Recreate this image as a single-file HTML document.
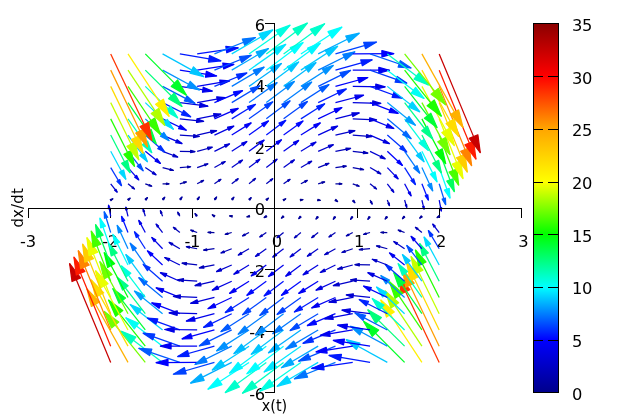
<!DOCTYPE html>
<html><head><meta charset="utf-8"><title>Van der Pol phase plot</title>
<style>html,body{margin:0;padding:0;background:#fff}svg{display:block}</style></head>
<body>
<svg width="640" height="420" viewBox="0 0 640 420">
<rect width="640" height="420" fill="#fff"/>
<g font-family="'DejaVu Sans','Liberation Sans',sans-serif" font-size="16.3" letter-spacing="-0.3" fill="#000">
<text x="27.90" y="246.60" text-anchor="middle">-3</text>
<text x="110.07" y="246.60" text-anchor="middle">-2</text>
<text x="192.23" y="246.60" text-anchor="middle">-1</text>
<text x="276.80" y="246.60" text-anchor="middle">0</text>
<text x="358.97" y="246.60" text-anchor="middle">1</text>
<text x="441.13" y="246.60" text-anchor="middle">2</text>
<text x="523.30" y="246.60" text-anchor="middle">3</text>
<text x="264.9" y="400.35" text-anchor="end">-6</text>
<text x="264.9" y="337.75" text-anchor="end">-4</text>
<text x="264.9" y="277.45" text-anchor="end">-2</text>
<text x="264.9" y="214.55" text-anchor="end">0</text>
<text x="264.9" y="154.30" text-anchor="end">2</text>
<text x="264.9" y="91.95" text-anchor="end">4</text>
<text x="264.9" y="30.55" text-anchor="end">6</text>
<text x="572" y="399.90">0</text>
<text x="572" y="347.19">5</text>
<text x="572" y="294.47">10</text>
<text x="572" y="241.76">15</text>
<text x="572" y="189.04">20</text>
<text x="572" y="136.33">25</text>
<text x="572" y="83.61">30</text>
<text x="572" y="30.90">35</text>
</g>
<g font-family="'DejaVu Sans Condensed','DejaVu Sans','Liberation Sans',sans-serif" font-size="16" fill="#000">
<text x="274.5" y="410.8" text-anchor="middle">x(t)</text>
<text transform="translate(23.2,207.8) rotate(-90)" text-anchor="middle" font-size="16.6" letter-spacing="0.15">dx/dt</text>
</g>
<path d="M28.5 208V218M110.5 208V218M192.5 208V218M274.5 208V218M357.5 208V218M439.5 208V218M521.5 208V218M265 392.5H275M265 331.5H275M265 269.5H275M265 208.5H275M265 146.5H275M265 85.5H275M265 23.5H275" stroke="#000" stroke-width="1" fill="none" shape-rendering="crispEdges"/>
<g stroke-width="1.25" stroke-linejoin="round"><g stroke="#c80000" fill="#c80000"><path d="M110.71 362.40L69.65 263.68"/><path d="M72.03 281.52L69.65 263.68L80.63 277.94Z"/></g><g stroke="#ffb100" fill="#ffb100"><path d="M128.00 362.40L86.94 288.94"/><path d="M91.35 306.39L86.94 288.94L99.49 301.84Z"/></g><g stroke="#73ff00" fill="#73ff00"><path d="M145.29 362.40L104.23 311.47"/><path d="M111.51 327.93L104.23 311.47L118.77 322.08Z"/></g><g stroke="#00ffbf" fill="#00ffbf"><path d="M162.58 362.40L121.52 331.26"/><path d="M131.00 343.47L121.52 331.26L135.83 337.10Z"/></g><g stroke="#005aff" fill="#005aff"><path d="M179.86 362.40L138.80 348.32"/><path d="M149.61 355.59L138.80 348.32L151.80 349.21Z"/></g><g stroke="#0000ff" fill="#0000ff"><path d="M197.15 362.40L156.09 362.64"/><path d="M168.01 365.76L156.09 362.64L167.97 359.38Z"/></g><g stroke="#0042ff" fill="#0042ff"><path d="M214.44 362.40L173.38 374.23"/><path d="M186.20 373.99L173.38 374.23L184.36 367.61Z"/></g><g stroke="#00acff" fill="#00acff"><path d="M231.73 362.40L190.67 383.08"/><path d="M204.17 380.28L190.67 383.08L200.96 373.90Z"/></g><g stroke="#00fffe" fill="#00fffe"><path d="M249.02 362.40L207.96 389.20"/><path d="M221.94 384.62L207.96 389.20L217.77 378.25Z"/></g><g stroke="#00ffcd" fill="#00ffcd"><path d="M266.31 362.40L225.25 392.58"/><path d="M239.49 387.03L225.25 392.58L234.80 380.65Z"/></g><g stroke="#00ffc3" fill="#00ffc3"><path d="M283.59 362.40L242.53 393.23"/><path d="M256.83 387.49L242.53 393.23L252.04 381.11Z"/></g><g stroke="#00ffe2" fill="#00ffe2"><path d="M300.88 362.40L259.82 391.15"/><path d="M273.95 386.01L259.82 391.15L269.49 379.63Z"/></g><g stroke="#00d8ff" fill="#00d8ff"><path d="M318.17 362.40L277.11 386.33"/><path d="M290.87 382.58L277.11 386.33L287.15 376.21Z"/></g><g stroke="#0075ff" fill="#0075ff"><path d="M335.46 362.40L294.40 378.77"/><path d="M307.57 377.22L294.40 378.77L305.03 370.84Z"/></g><g stroke="#0013ff" fill="#0013ff"><path d="M352.75 362.40L311.69 368.48"/><path d="M324.06 369.91L311.69 368.48L323.11 363.53Z"/></g><g stroke="#0019ff" fill="#0019ff"><path d="M370.04 362.40L328.98 355.46"/><path d="M340.34 360.66L328.98 355.46L341.41 354.28Z"/></g><g stroke="#00c7ff" fill="#00c7ff"><path d="M387.32 362.40L346.26 339.70"/><path d="M356.40 349.47L346.26 339.70L359.93 343.09Z"/></g><g stroke="#00ff26" fill="#00ff26"><path d="M404.61 362.40L363.55 321.21"/><path d="M372.25 336.33L363.55 321.21L378.65 329.96Z"/></g><g stroke="#fff000" fill="#fff000"><path d="M421.90 362.40L380.84 299.98"/><path d="M386.50 317.07L380.84 299.98L394.29 311.95Z"/></g><g stroke="#ff3300" fill="#ff3300"><path d="M439.19 362.40L398.13 276.02"/><path d="M401.39 293.72L398.13 276.02L409.80 289.72Z"/></g><g stroke="#ff1b00" fill="#ff1b00"><path d="M110.71 346.16L73.97 257.19"/><path d="M76.30 275.03L73.97 257.19L84.91 271.48Z"/></g><g stroke="#ffdc00" fill="#ffdc00"><path d="M128.00 346.16L91.26 279.86"/><path d="M95.61 297.32L91.26 279.86L103.76 292.81Z"/></g><g stroke="#1eff00" fill="#1eff00"><path d="M145.29 346.16L108.55 300.08"/><path d="M115.62 316.29L108.55 300.08L122.77 310.58Z"/></g><g stroke="#00fff4" fill="#00fff4"><path d="M162.58 346.16L125.84 317.86"/><path d="M134.29 328.91L125.84 317.86L138.68 323.21Z"/></g><g stroke="#003aff" fill="#003aff"><path d="M179.86 346.16L143.13 333.19"/><path d="M152.76 339.80L143.13 333.19L154.78 334.09Z"/></g><g stroke="#0000f3" fill="#0000f3"><path d="M197.15 346.16L160.41 346.07"/><path d="M171.05 348.95L160.41 346.07L171.07 343.24Z"/></g><g stroke="#001eff" fill="#001eff"><path d="M214.44 346.16L177.70 356.51"/><path d="M189.15 356.36L177.70 356.51L187.55 350.66Z"/></g><g stroke="#007cff" fill="#007cff"><path d="M231.73 346.16L194.99 364.50"/><path d="M207.06 362.04L194.99 364.50L204.21 356.33Z"/></g><g stroke="#00c9ff" fill="#00c9ff"><path d="M249.02 346.16L212.28 370.04"/><path d="M224.78 365.97L212.28 370.04L221.07 360.27Z"/></g><g stroke="#00f6ff" fill="#00f6ff"><path d="M266.31 346.16L229.57 373.14"/><path d="M242.31 368.17L229.57 373.14L238.12 362.47Z"/></g><g stroke="#00ffff" fill="#00ffff"><path d="M283.59 346.16L246.86 373.78"/><path d="M259.65 368.63L246.86 373.78L255.36 362.93Z"/></g><g stroke="#00e5ff" fill="#00e5ff"><path d="M300.88 346.16L264.14 371.99"/><path d="M276.80 367.36L264.14 371.99L272.79 361.65Z"/></g><g stroke="#00a8ff" fill="#00a8ff"><path d="M318.17 346.16L281.43 367.74"/><path d="M293.75 364.34L281.43 367.74L290.40 358.64Z"/></g><g stroke="#0051ff" fill="#0051ff"><path d="M335.46 346.16L298.72 361.05"/><path d="M310.52 359.59L298.72 361.05L308.21 353.89Z"/></g><g stroke="#0000fb" fill="#0000fb"><path d="M352.75 346.16L316.01 351.91"/><path d="M327.10 353.10L316.01 351.91L326.21 347.40Z"/></g><g stroke="#0000fc" fill="#0000fc"><path d="M370.04 346.16L333.30 340.33"/><path d="M343.49 344.87L333.30 340.33L344.40 339.17Z"/></g><g stroke="#0091ff" fill="#0091ff"><path d="M387.32 346.16L350.59 326.30"/><path d="M359.69 334.91L350.59 326.30L362.78 329.20Z"/></g><g stroke="#00ff7a" fill="#00ff7a"><path d="M404.61 346.16L367.88 309.82"/><path d="M375.70 323.21L367.88 309.82L381.34 317.50Z"/></g><g stroke="#b1ff00" fill="#b1ff00"><path d="M421.90 346.16L385.16 290.90"/><path d="M390.91 307.96L385.16 290.90L398.67 302.80Z"/></g><g stroke="#ff9d00" fill="#ff9d00"><path d="M439.19 346.16L402.45 269.53"/><path d="M405.77 287.22L402.45 269.53L414.17 283.19Z"/></g><g stroke="#ff8400" fill="#ff8400"><path d="M110.71 329.93L78.29 250.69"/><path d="M80.57 268.55L78.29 250.69L89.19 265.02Z"/></g><g stroke="#e9ff00" fill="#e9ff00"><path d="M128.00 329.93L95.58 270.77"/><path d="M99.85 288.26L95.58 270.77L108.02 283.78Z"/></g><g stroke="#00ff36" fill="#00ff36"><path d="M145.29 329.93L112.87 288.69"/><path d="M119.06 303.16L112.87 288.69L125.47 298.12Z"/></g><g stroke="#00d4ff" fill="#00d4ff"><path d="M162.58 329.93L130.16 304.45"/><path d="M137.57 314.35L130.16 304.45L141.53 309.32Z"/></g><g stroke="#001aff" fill="#001aff"><path d="M179.86 329.93L147.45 318.06"/><path d="M155.92 324.01L147.45 318.06L157.76 318.98Z"/></g><g stroke="#0000e7" fill="#0000e7"><path d="M197.15 329.93L164.74 329.50"/><path d="M174.10 332.14L164.74 329.50L174.16 327.11Z"/></g><g stroke="#0000fc" fill="#0000fc"><path d="M214.44 329.93L182.02 338.79"/><path d="M192.11 338.73L182.02 338.79L190.73 333.70Z"/></g><g stroke="#004dff" fill="#004dff"><path d="M231.73 329.93L199.31 345.91"/><path d="M209.95 343.80L199.31 345.91L207.47 338.76Z"/></g><g stroke="#0092ff" fill="#0092ff"><path d="M249.02 329.93L216.60 350.88"/><path d="M227.62 347.32L216.60 350.88L224.37 342.29Z"/></g><g stroke="#00baff" fill="#00baff"><path d="M266.31 329.93L233.89 353.69"/><path d="M245.13 349.32L233.89 353.69L241.44 344.28Z"/></g><g stroke="#00c4ff" fill="#00c4ff"><path d="M283.59 329.93L251.18 354.34"/><path d="M262.47 349.78L251.18 354.34L258.68 344.75Z"/></g><g stroke="#00aeff" fill="#00aeff"><path d="M300.88 329.93L268.47 352.83"/><path d="M279.64 348.71L268.47 352.83L276.08 343.67Z"/></g><g stroke="#0079ff" fill="#0079ff"><path d="M318.17 329.93L285.76 349.16"/><path d="M296.64 346.10L285.76 349.16L293.66 341.07Z"/></g><g stroke="#002cff" fill="#002cff"><path d="M335.46 329.93L303.04 343.33"/><path d="M313.48 341.96L303.04 343.33L311.40 336.93Z"/></g><g stroke="#0000ef" fill="#0000ef"><path d="M352.75 329.93L320.33 335.35"/><path d="M330.15 336.29L320.33 335.35L329.30 331.26Z"/></g><g stroke="#0000ed" fill="#0000ed"><path d="M370.04 329.93L337.62 325.20"/><path d="M346.65 329.09L337.62 325.20L347.38 324.05Z"/></g><g stroke="#005bff" fill="#005bff"><path d="M387.32 329.93L354.91 312.90"/><path d="M362.98 320.35L354.91 312.90L365.62 315.31Z"/></g><g stroke="#00ffcf" fill="#00ffcf"><path d="M404.61 329.93L372.20 298.43"/><path d="M379.15 310.08L372.20 298.43L384.04 305.04Z"/></g><g stroke="#37ff00" fill="#37ff00"><path d="M421.90 329.93L389.49 281.81"/><path d="M395.14 298.27L389.49 281.81L402.62 293.24Z"/></g><g stroke="#ffda00" fill="#ffda00"><path d="M439.19 329.93L406.77 263.03"/><path d="M410.16 280.71L406.77 263.03L418.55 276.65Z"/></g><g stroke="#ffcd00" fill="#ffcd00"><path d="M110.71 313.69L82.62 244.20"/><path d="M84.81 262.06L82.62 244.20L93.45 258.57Z"/></g><g stroke="#70ff00" fill="#70ff00"><path d="M128.00 313.69L99.90 261.68"/><path d="M104.01 278.94L99.90 261.68L112.08 274.57Z"/></g><g stroke="#00ff8b" fill="#00ff8b"><path d="M145.29 313.69L117.19 277.30"/><path d="M122.51 290.03L117.19 277.30L128.16 285.67Z"/></g><g stroke="#009eff" fill="#009eff"><path d="M162.58 313.69L134.48 291.05"/><path d="M140.86 299.79L134.48 291.05L144.38 295.43Z"/></g><g stroke="#0000fc" fill="#0000fc"><path d="M179.86 313.69L151.77 302.93"/><path d="M159.08 308.23L151.77 302.93L160.75 303.86Z"/></g><g stroke="#0000db" fill="#0000db"><path d="M197.15 313.69L169.06 312.93"/><path d="M177.14 315.33L169.06 312.93L177.26 310.97Z"/></g><g stroke="#0000ec" fill="#0000ec"><path d="M214.44 313.69L186.35 321.06"/><path d="M195.06 321.11L186.35 321.06L193.92 316.75Z"/></g><g stroke="#001eff" fill="#001eff"><path d="M231.73 313.69L203.64 327.33"/><path d="M212.84 325.56L203.64 327.33L210.72 321.19Z"/></g><g stroke="#005aff" fill="#005aff"><path d="M249.02 313.69L220.92 331.72"/><path d="M230.46 328.68L220.92 331.72L227.66 324.31Z"/></g><g stroke="#007fff" fill="#007fff"><path d="M266.31 313.69L238.21 334.24"/><path d="M247.95 330.47L238.21 334.24L244.76 326.10Z"/></g><g stroke="#0088ff" fill="#0088ff"><path d="M283.59 313.69L255.50 334.89"/><path d="M265.29 330.93L255.50 334.89L262.00 326.56Z"/></g><g stroke="#0077ff" fill="#0077ff"><path d="M300.88 313.69L272.79 333.67"/><path d="M282.48 330.06L272.79 333.67L279.38 325.70Z"/></g><g stroke="#004aff" fill="#004aff"><path d="M318.17 313.69L290.08 330.57"/><path d="M299.53 327.86L290.08 330.57L296.91 323.50Z"/></g><g stroke="#0008ff" fill="#0008ff"><path d="M335.46 313.69L307.37 325.61"/><path d="M316.43 324.34L307.37 325.61L314.58 319.97Z"/></g><g stroke="#0000e3" fill="#0000e3"><path d="M352.75 313.69L324.65 318.78"/><path d="M333.19 319.48L324.65 318.78L332.40 315.12Z"/></g><g stroke="#0000df" fill="#0000df"><path d="M370.04 313.69L341.94 310.07"/><path d="M349.80 313.30L341.94 310.07L350.36 308.94Z"/></g><g stroke="#0025ff" fill="#0025ff"><path d="M387.32 313.69L359.23 299.49"/><path d="M366.27 305.79L359.23 299.49L368.47 301.43Z"/></g><g stroke="#00dbff" fill="#00dbff"><path d="M404.61 313.69L376.52 287.04"/><path d="M382.59 296.95L376.52 287.04L386.73 292.58Z"/></g><g stroke="#00ff42" fill="#00ff42"><path d="M421.90 313.69L393.81 272.73"/><path d="M398.77 286.78L393.81 272.73L405.13 282.41Z"/></g><g stroke="#c4ff00" fill="#c4ff00"><path d="M439.19 313.69L411.10 256.54"/><path d="M414.59 274.19L411.10 256.54L422.95 270.08Z"/></g><g stroke="#eaff00" fill="#eaff00"><path d="M110.71 297.45L86.94 237.70"/><path d="M89.04 255.58L86.94 237.70L97.69 252.13Z"/></g><g stroke="#00ff09" fill="#00ff09"><path d="M128.00 297.45L104.23 252.60"/><path d="M107.63 267.44L104.23 252.60L114.60 263.75Z"/></g><g stroke="#00ffdf" fill="#00ffdf"><path d="M145.29 297.45L121.52 265.91"/><path d="M125.95 276.90L121.52 265.91L130.85 273.21Z"/></g><g stroke="#0068ff" fill="#0068ff"><path d="M162.58 297.45L138.80 277.65"/><path d="M144.15 285.23L138.80 277.65L147.23 281.54Z"/></g><g stroke="#0000ee" fill="#0000ee"><path d="M179.86 297.45L156.09 287.80"/><path d="M162.23 292.44L156.09 287.80L163.73 288.75Z"/></g><g stroke="#0000cf" fill="#0000cf"><path d="M197.15 297.45L173.38 296.36"/><path d="M180.18 298.52L173.38 296.36L180.35 294.83Z"/></g><g stroke="#0000db" fill="#0000db"><path d="M214.44 297.45L190.67 303.34"/><path d="M198.01 303.48L190.67 303.34L197.10 299.79Z"/></g><g stroke="#0000f7" fill="#0000f7"><path d="M231.73 297.45L207.96 308.74"/><path d="M215.72 307.32L207.96 308.74L213.97 303.62Z"/></g><g stroke="#0023ff" fill="#0023ff"><path d="M249.02 297.45L225.25 312.56"/><path d="M233.31 310.03L225.25 312.56L230.96 306.33Z"/></g><g stroke="#0043ff" fill="#0043ff"><path d="M266.31 297.45L242.53 314.79"/><path d="M250.77 311.61L242.53 314.79L248.08 307.92Z"/></g><g stroke="#004dff" fill="#004dff"><path d="M283.59 297.45L259.82 315.44"/><path d="M268.11 312.07L259.82 315.44L265.31 308.38Z"/></g><g stroke="#003fff" fill="#003fff"><path d="M300.88 297.45L277.11 314.51"/><path d="M285.32 311.41L277.11 314.51L282.68 307.72Z"/></g><g stroke="#001bff" fill="#001bff"><path d="M318.17 297.45L294.40 311.99"/><path d="M302.42 309.62L294.40 311.99L300.16 305.93Z"/></g><g stroke="#0000f2" fill="#0000f2"><path d="M335.46 297.45L311.69 307.89"/><path d="M319.39 306.71L311.69 307.89L317.77 303.02Z"/></g><g stroke="#0000d7" fill="#0000d7"><path d="M352.75 297.45L328.98 302.21"/><path d="M336.23 302.67L328.98 302.21L335.50 298.98Z"/></g><g stroke="#0000d1" fill="#0000d1"><path d="M370.04 297.45L346.26 294.94"/><path d="M352.96 297.51L346.26 294.94L353.35 293.82Z"/></g><g stroke="#0000f8" fill="#0000f8"><path d="M387.32 297.45L363.55 286.09"/><path d="M369.56 291.23L363.55 286.09L371.32 287.54Z"/></g><g stroke="#0086ff" fill="#0086ff"><path d="M404.61 297.45L380.84 275.66"/><path d="M386.04 283.82L380.84 275.66L389.42 280.13Z"/></g><g stroke="#00ffbb" fill="#00ffbb"><path d="M421.90 297.45L398.13 263.64"/><path d="M402.39 275.28L398.13 263.64L407.64 271.59Z"/></g><g stroke="#21ff00" fill="#21ff00"><path d="M439.19 297.45L415.42 250.04"/><path d="M418.63 265.63L415.42 250.04L425.99 261.93Z"/></g><g stroke="#47ff00" fill="#47ff00"><path d="M110.71 281.22L91.26 231.21"/><path d="M93.01 247.21L91.26 231.21L100.78 244.19Z"/></g><g stroke="#00ff82" fill="#00ff82"><path d="M128.00 281.22L108.55 243.51"/><path d="M111.26 255.95L108.55 243.51L117.11 252.93Z"/></g><g stroke="#00caff" fill="#00caff"><path d="M145.29 281.22L125.84 254.53"/><path d="M129.40 263.77L125.84 254.53L133.55 260.75Z"/></g><g stroke="#0032ff" fill="#0032ff"><path d="M162.58 281.22L143.13 264.24"/><path d="M147.44 270.67L143.13 264.24L150.08 267.65Z"/></g><g stroke="#0000e0" fill="#0000e0"><path d="M179.86 281.22L160.41 272.66"/><path d="M165.39 276.65L160.41 272.66L166.71 273.63Z"/></g><g stroke="#0000c3" fill="#0000c3"><path d="M197.15 281.22L177.70 279.79"/><path d="M183.23 281.71L177.70 279.79L183.45 278.69Z"/></g><g stroke="#0000cb" fill="#0000cb"><path d="M214.44 281.22L194.99 285.62"/><path d="M200.97 285.86L194.99 285.62L200.28 282.83Z"/></g><g stroke="#0000e2" fill="#0000e2"><path d="M231.73 281.22L212.28 290.16"/><path d="M218.61 289.08L212.28 290.16L217.22 286.06Z"/></g><g stroke="#0000f6" fill="#0000f6"><path d="M249.02 281.22L229.57 293.40"/><path d="M236.15 291.38L229.57 293.40L234.26 288.36Z"/></g><g stroke="#0008ff" fill="#0008ff"><path d="M266.31 281.22L246.86 295.34"/><path d="M253.59 292.76L246.86 295.34L251.40 289.74Z"/></g><g stroke="#0012ff" fill="#0012ff"><path d="M283.59 281.22L264.14 295.99"/><path d="M270.93 293.22L264.14 295.99L268.63 290.20Z"/></g><g stroke="#0008ff" fill="#0008ff"><path d="M300.88 281.22L281.43 295.35"/><path d="M288.17 292.76L281.43 295.35L285.97 289.74Z"/></g><g stroke="#0000f6" fill="#0000f6"><path d="M318.17 281.22L298.72 293.40"/><path d="M305.30 291.38L298.72 293.40L303.41 288.36Z"/></g><g stroke="#0000e2" fill="#0000e2"><path d="M335.46 281.22L316.01 290.17"/><path d="M322.34 289.08L316.01 290.17L320.95 286.06Z"/></g><g stroke="#0000cb" fill="#0000cb"><path d="M352.75 281.22L333.30 285.64"/><path d="M339.28 285.87L333.30 285.64L338.59 282.85Z"/></g><g stroke="#0000c3" fill="#0000c3"><path d="M370.04 281.22L350.59 279.81"/><path d="M356.11 281.73L350.59 279.81L356.33 278.71Z"/></g><g stroke="#0000df" fill="#0000df"><path d="M387.32 281.22L367.88 272.69"/><path d="M372.85 276.67L367.88 272.69L374.17 273.65Z"/></g><g stroke="#0032ff" fill="#0032ff"><path d="M404.61 281.22L385.16 264.27"/><path d="M389.48 270.69L385.16 264.27L392.12 267.67Z"/></g><g stroke="#00caff" fill="#00caff"><path d="M421.90 281.22L402.45 254.55"/><path d="M406.02 263.79L402.45 254.55L410.16 260.77Z"/></g><g stroke="#00ff83" fill="#00ff83"><path d="M439.19 281.22L419.74 243.55"/><path d="M422.45 255.97L419.74 243.55L428.30 252.95Z"/></g><g stroke="#00ff5d" fill="#00ff5d"><path d="M110.71 264.98L95.58 224.71"/><path d="M96.84 237.55L95.58 224.71L103.09 235.21Z"/></g><g stroke="#00fffb" fill="#00fffb"><path d="M128.00 264.98L112.87 234.43"/><path d="M114.88 244.46L112.87 234.43L119.63 242.11Z"/></g><g stroke="#0076ff" fill="#0076ff"><path d="M145.29 264.98L130.16 243.14"/><path d="M132.85 250.64L130.16 243.14L136.24 248.29Z"/></g><g stroke="#0000fe" fill="#0000fe"><path d="M162.58 264.98L147.45 250.84"/><path d="M150.73 256.11L147.45 250.84L152.93 253.76Z"/></g><g stroke="#0000d1" fill="#0000d1"><path d="M179.86 264.98L164.74 257.53"/><path d="M168.54 260.87L164.74 257.53L169.70 258.52Z"/></g><g stroke="#0000b8" fill="#0000b8"><path d="M197.15 264.98L182.02 263.22"/><path d="M186.27 264.91L182.02 263.22L186.54 262.56Z"/></g><g stroke="#0000bb" fill="#0000bb"><path d="M214.44 264.98L199.31 267.90"/><path d="M203.92 268.23L199.31 267.90L203.47 265.88Z"/></g><g stroke="#0000cc" fill="#0000cc"><path d="M231.73 264.98L216.60 271.57"/><path d="M221.50 270.84L216.60 271.57L220.47 268.49Z"/></g><g stroke="#0000dd" fill="#0000dd"><path d="M249.02 264.98L233.89 274.24"/><path d="M238.99 272.73L233.89 274.24L237.55 270.38Z"/></g><g stroke="#0000e8" fill="#0000e8"><path d="M266.31 264.98L251.18 275.89"/><path d="M256.41 273.91L251.18 275.89L254.71 271.56Z"/></g><g stroke="#0000ec" fill="#0000ec"><path d="M283.59 264.98L268.47 276.54"/><path d="M273.75 274.37L268.47 276.54L271.95 272.02Z"/></g><g stroke="#0000e9" fill="#0000e9"><path d="M300.88 264.98L285.76 276.19"/><path d="M291.01 274.11L285.76 276.19L289.27 271.76Z"/></g><g stroke="#0000e0" fill="#0000e0"><path d="M318.17 264.98L303.04 274.82"/><path d="M308.19 273.14L303.04 274.82L306.66 270.79Z"/></g><g stroke="#0000d2" fill="#0000d2"><path d="M335.46 264.98L320.33 272.45"/><path d="M325.30 271.46L320.33 272.45L324.14 269.11Z"/></g><g stroke="#0000c0" fill="#0000c0"><path d="M352.75 264.98L337.62 269.07"/><path d="M342.32 269.06L337.62 269.07L341.69 266.71Z"/></g><g stroke="#0000b6" fill="#0000b6"><path d="M370.04 264.98L354.91 264.68"/><path d="M359.27 265.94L354.91 264.68L359.32 263.59Z"/></g><g stroke="#0000c8" fill="#0000c8"><path d="M387.32 264.98L372.20 259.28"/><path d="M376.14 262.11L372.20 259.28L377.02 259.76Z"/></g><g stroke="#0000f0" fill="#0000f0"><path d="M404.61 264.98L389.49 252.88"/><path d="M392.93 257.56L389.49 252.88L394.81 255.21Z"/></g><g stroke="#0051ff" fill="#0051ff"><path d="M421.90 264.98L406.77 245.47"/><path d="M409.64 252.30L406.77 245.47L412.67 249.95Z"/></g><g stroke="#00d8ff" fill="#00d8ff"><path d="M439.19 264.98L424.06 237.05"/><path d="M426.28 246.32L424.06 237.05L430.61 243.97Z"/></g><g stroke="#00feff" fill="#00feff"><path d="M110.71 248.74L99.90 218.22"/><path d="M100.67 227.90L99.90 218.22L105.41 226.22Z"/></g><g stroke="#008aff" fill="#008aff"><path d="M128.00 248.74L117.19 225.34"/><path d="M118.51 232.96L117.19 225.34L122.14 231.28Z"/></g><g stroke="#0022ff" fill="#0022ff"><path d="M145.29 248.74L134.48 231.75"/><path d="M136.29 237.51L134.48 231.75L138.93 235.83Z"/></g><g stroke="#0000e5" fill="#0000e5"><path d="M162.58 248.74L151.77 237.44"/><path d="M154.02 241.55L151.77 237.44L155.78 239.87Z"/></g><g stroke="#0000c4" fill="#0000c4"><path d="M179.86 248.74L169.06 242.40"/><path d="M171.70 245.08L169.06 242.40L172.68 243.40Z"/></g><g stroke="#0000ad" fill="#0000ad"><path d="M197.15 248.74L186.35 246.65"/><path d="M189.32 248.10L186.35 246.65L189.64 246.42Z"/></g><g stroke="#0000ab" fill="#0000ab"><path d="M214.44 248.74L203.64 250.18"/><path d="M206.88 250.60L203.64 250.18L206.65 248.92Z"/></g><g stroke="#0000b7" fill="#0000b7"><path d="M231.73 248.74L220.92 252.99"/><path d="M224.38 252.60L220.92 252.99L223.73 250.92Z"/></g><g stroke="#0000c4" fill="#0000c4"><path d="M249.02 248.74L238.21 255.08"/><path d="M241.84 254.08L238.21 255.08L240.85 252.40Z"/></g><g stroke="#0000cc" fill="#0000cc"><path d="M266.31 248.74L255.50 256.45"/><path d="M259.23 255.05L255.50 256.45L258.03 253.37Z"/></g><g stroke="#0000d1" fill="#0000d1"><path d="M283.59 248.74L272.79 257.10"/><path d="M276.57 255.51L272.79 257.10L275.27 253.84Z"/></g><g stroke="#0000d0" fill="#0000d0"><path d="M300.88 248.74L290.08 257.03"/><path d="M293.85 255.46L290.08 257.03L292.57 253.79Z"/></g><g stroke="#0000cb" fill="#0000cb"><path d="M318.17 248.74L307.37 256.24"/><path d="M311.08 254.90L307.37 256.24L309.92 253.22Z"/></g><g stroke="#0000c1" fill="#0000c1"><path d="M335.46 248.74L324.65 254.73"/><path d="M328.25 253.83L324.65 254.73L327.32 252.15Z"/></g><g stroke="#0000b5" fill="#0000b5"><path d="M352.75 248.74L341.94 252.50"/><path d="M345.37 252.25L341.94 252.50L344.78 250.57Z"/></g><g stroke="#0000aa" fill="#0000aa"><path d="M370.04 248.74L359.23 249.55"/><path d="M362.42 250.15L359.23 249.55L362.30 248.48Z"/></g><g stroke="#0000b0" fill="#0000b0"><path d="M387.32 248.74L376.52 245.88"/><path d="M379.43 247.55L376.52 245.88L379.87 245.87Z"/></g><g stroke="#0000c9" fill="#0000c9"><path d="M404.61 248.74L393.81 241.49"/><path d="M396.38 244.43L393.81 241.49L397.50 242.75Z"/></g><g stroke="#0000ed" fill="#0000ed"><path d="M421.90 248.74L411.10 236.38"/><path d="M413.27 240.80L411.10 236.38L415.19 239.13Z"/></g><g stroke="#0035ff" fill="#0035ff"><path d="M439.19 248.74L428.38 230.56"/><path d="M430.10 236.67L428.38 230.56L432.93 234.99Z"/></g><g stroke="#005bff" fill="#005bff"><path d="M110.71 232.51L104.23 211.72"/><path d="M104.49 218.25L104.23 211.72L107.72 217.24Z"/></g><g stroke="#0011ff" fill="#0011ff"><path d="M128.00 232.51L121.52 216.26"/><path d="M122.13 221.47L121.52 216.26L124.66 220.46Z"/></g><g stroke="#0000e8" fill="#0000e8"><path d="M145.29 232.51L138.80 220.36"/><path d="M139.74 224.38L138.80 220.36L141.63 223.38Z"/></g><g stroke="#0000cd" fill="#0000cd"><path d="M162.58 232.51L156.09 224.03"/><path d="M157.31 226.99L156.09 224.03L158.63 225.98Z"/></g><g stroke="#0000b6" fill="#0000b6"><path d="M179.86 232.51L173.38 227.27"/><path d="M174.97 229.46L173.38 227.27L175.85 228.37Z"/></g><g stroke="#0000a5" fill="#0000a5"><path d="M197.15 232.51L190.67 230.08"/><path d="M192.87 231.65L190.67 230.08L193.36 230.34Z"/></g><g stroke="#00009d" fill="#00009d"><path d="M214.44 232.51L207.96 232.46"/><path d="M210.56 233.18L207.96 232.46L210.57 231.78Z"/></g><g stroke="#0000a2" fill="#0000a2"><path d="M231.73 232.51L225.25 234.40"/><path d="M227.95 234.34L225.25 234.40L227.55 233.00Z"/></g><g stroke="#0000ab" fill="#0000ab"><path d="M249.02 232.51L242.53 235.92"/><path d="M245.17 235.32L242.53 235.92L244.52 234.08Z"/></g><g stroke="#0000b1" fill="#0000b1"><path d="M266.31 232.51L259.82 237.00"/><path d="M262.36 236.09L259.82 237.00L261.57 234.94Z"/></g><g stroke="#0000b6" fill="#0000b6"><path d="M283.59 232.51L277.11 237.65"/><path d="M279.59 236.57L277.11 237.65L278.72 235.48Z"/></g><g stroke="#0000b7" fill="#0000b7"><path d="M300.88 232.51L294.40 237.86"/><path d="M296.85 236.74L294.40 237.86L295.96 235.66Z"/></g><g stroke="#0000b6" fill="#0000b6"><path d="M318.17 232.51L311.69 237.65"/><path d="M314.17 236.58L311.69 237.65L313.30 235.48Z"/></g><g stroke="#0000b1" fill="#0000b1"><path d="M335.46 232.51L328.98 237.00"/><path d="M331.52 236.09L328.98 237.00L330.72 234.94Z"/></g><g stroke="#0000ab" fill="#0000ab"><path d="M352.75 232.51L346.26 235.93"/><path d="M348.90 235.33L346.26 235.93L348.24 234.09Z"/></g><g stroke="#0000a2" fill="#0000a2"><path d="M370.04 232.51L363.55 234.42"/><path d="M366.25 234.35L363.55 234.42L365.86 233.01Z"/></g><g stroke="#00009d" fill="#00009d"><path d="M387.32 232.51L380.84 232.48"/><path d="M383.45 233.19L380.84 232.48L383.45 231.79Z"/></g><g stroke="#0000a5" fill="#0000a5"><path d="M404.61 232.51L398.13 230.10"/><path d="M400.33 231.66L398.13 230.10L400.82 230.35Z"/></g><g stroke="#0000b6" fill="#0000b6"><path d="M421.90 232.51L415.42 227.30"/><path d="M417.01 229.48L415.42 227.30L417.89 228.39Z"/></g><g stroke="#0000cd" fill="#0000cd"><path d="M439.19 232.51L432.71 224.06"/><path d="M433.93 227.01L432.71 224.06L435.24 226.01Z"/></g><g stroke="#0000de" fill="#0000de"><path d="M110.71 216.27L108.55 205.23"/><path d="M108.32 208.59L108.55 205.23L110.03 208.26Z"/></g><g stroke="#0000d0" fill="#0000d0"><path d="M128.00 216.27L125.84 207.17"/><path d="M125.76 209.98L125.84 207.17L127.17 209.64Z"/></g><g stroke="#0000c2" fill="#0000c2"><path d="M145.29 216.27L143.13 208.97"/><path d="M143.20 211.67L143.13 208.97L144.54 211.28Z"/></g><g stroke="#0000b6" fill="#0000b6"><path d="M162.58 216.27L160.41 210.63"/><path d="M160.70 213.32L160.41 210.63L162.00 212.82Z"/></g><g stroke="#0000ab" fill="#0000ab"><path d="M179.86 216.27L177.70 212.14"/><path d="M178.29 214.78L177.70 212.14L179.53 214.13Z"/></g><g stroke="#0000a1" fill="#0000a1"><path d="M197.15 216.27L194.99 213.51"/><path d="M196.05 216.00L194.99 213.51L197.15 215.13Z"/></g><g stroke="#000098" fill="#000098"><path d="M214.44 216.27L212.28 214.74"/><path d="M214.00 216.82L212.28 214.74L214.81 215.67Z"/></g><g stroke="#000092" fill="#000092"><path d="M231.73 216.27L229.57 215.82"/><path d="M231.98 217.03L229.57 215.82L232.26 215.67Z"/></g><g stroke="#000092" fill="#000092"><path d="M249.02 216.27L246.86 216.76"/><path d="M249.55 216.86L246.86 216.76L249.25 215.50Z"/></g><g stroke="#000096" fill="#000096"><path d="M266.31 216.27L264.14 217.55"/><path d="M266.74 216.82L264.14 217.55L266.03 215.62Z"/></g><g stroke="#00009b" fill="#00009b"><path d="M283.59 216.27L281.43 218.20"/><path d="M283.84 216.98L281.43 218.20L282.91 215.94Z"/></g><g stroke="#00009e" fill="#00009e"><path d="M300.88 216.27L298.72 218.70"/><path d="M300.98 217.22L298.72 218.70L299.93 216.29Z"/></g><g stroke="#0000a1" fill="#0000a1"><path d="M318.17 216.27L316.01 219.07"/><path d="M318.16 217.43L316.01 219.07L317.05 216.57Z"/></g><g stroke="#0000a2" fill="#0000a2"><path d="M335.46 216.27L333.30 219.28"/><path d="M335.39 217.57L333.30 219.28L334.25 216.76Z"/></g><g stroke="#0000a3" fill="#0000a3"><path d="M352.75 216.27L350.59 219.36"/><path d="M352.65 217.62L350.59 219.36L351.51 216.82Z"/></g><g stroke="#0000a3" fill="#0000a3"><path d="M370.04 216.27L367.88 219.29"/><path d="M369.96 217.57L367.88 219.29L368.83 216.76Z"/></g><g stroke="#0000a1" fill="#0000a1"><path d="M387.32 216.27L385.16 219.07"/><path d="M387.31 217.43L385.16 219.07L386.20 216.58Z"/></g><g stroke="#00009e" fill="#00009e"><path d="M404.61 216.27L402.45 218.72"/><path d="M404.70 217.22L402.45 218.72L403.65 216.30Z"/></g><g stroke="#00009b" fill="#00009b"><path d="M421.90 216.27L419.74 218.21"/><path d="M422.15 216.99L419.74 218.21L421.21 215.95Z"/></g><g stroke="#000097" fill="#000097"><path d="M439.19 216.27L437.03 217.57"/><path d="M439.62 216.82L437.03 217.57L438.90 215.62Z"/></g><g stroke="#000097" fill="#000097"><path d="M110.71 200.03L112.87 198.73"/><path d="M110.28 199.48L112.87 198.73L111.00 200.68Z"/></g><g stroke="#00009b" fill="#00009b"><path d="M128.00 200.03L130.16 198.09"/><path d="M127.75 199.31L130.16 198.09L128.69 200.35Z"/></g><g stroke="#00009e" fill="#00009e"><path d="M145.29 200.03L147.45 197.58"/><path d="M145.20 199.08L147.45 197.58L146.25 200.00Z"/></g><g stroke="#0000a1" fill="#0000a1"><path d="M162.58 200.03L164.74 197.23"/><path d="M162.59 198.87L164.74 197.23L163.70 199.72Z"/></g><g stroke="#0000a3" fill="#0000a3"><path d="M179.86 200.03L182.02 197.01"/><path d="M179.94 198.73L182.02 197.01L181.07 199.54Z"/></g><g stroke="#0000a3" fill="#0000a3"><path d="M197.15 200.03L199.31 196.94"/><path d="M197.25 198.68L199.31 196.94L198.39 199.48Z"/></g><g stroke="#0000a2" fill="#0000a2"><path d="M214.44 200.03L216.60 197.02"/><path d="M214.51 198.73L216.60 197.02L215.65 199.54Z"/></g><g stroke="#0000a1" fill="#0000a1"><path d="M231.73 200.03L233.89 197.23"/><path d="M231.74 198.87L233.89 197.23L232.85 199.73Z"/></g><g stroke="#00009e" fill="#00009e"><path d="M249.02 200.03L251.18 197.60"/><path d="M248.92 199.08L251.18 197.60L249.97 200.01Z"/></g><g stroke="#00009b" fill="#00009b"><path d="M266.31 200.03L268.47 198.10"/><path d="M266.06 199.32L268.47 198.10L266.99 200.36Z"/></g><g stroke="#000096" fill="#000096"><path d="M283.59 200.03L285.76 198.75"/><path d="M283.16 199.48L285.76 198.75L283.87 200.68Z"/></g><g stroke="#000092" fill="#000092"><path d="M300.88 200.03L303.04 199.54"/><path d="M300.35 199.44L303.04 199.54L300.65 200.80Z"/></g><g stroke="#000092" fill="#000092"><path d="M318.17 200.03L320.33 200.48"/><path d="M317.92 199.27L320.33 200.48L317.64 200.63Z"/></g><g stroke="#000098" fill="#000098"><path d="M335.46 200.03L337.62 201.56"/><path d="M335.90 199.48L337.62 201.56L335.09 200.63Z"/></g><g stroke="#0000a1" fill="#0000a1"><path d="M352.75 200.03L354.91 202.79"/><path d="M353.85 200.30L354.91 202.79L352.75 201.17Z"/></g><g stroke="#0000ab" fill="#0000ab"><path d="M370.04 200.03L372.20 204.16"/><path d="M371.61 201.52L372.20 204.16L370.37 202.17Z"/></g><g stroke="#0000b6" fill="#0000b6"><path d="M387.32 200.03L389.49 205.67"/><path d="M389.20 202.98L389.49 205.67L387.90 203.48Z"/></g><g stroke="#0000c2" fill="#0000c2"><path d="M404.61 200.03L406.77 207.33"/><path d="M406.70 204.63L406.77 207.33L405.36 205.02Z"/></g><g stroke="#0000d0" fill="#0000d0"><path d="M421.90 200.03L424.06 209.13"/><path d="M424.14 206.32L424.06 209.13L422.73 206.66Z"/></g><g stroke="#0000de" fill="#0000de"><path d="M439.19 200.03L441.35 211.07"/><path d="M441.58 207.71L441.35 211.07L439.87 208.04Z"/></g><g stroke="#0000cd" fill="#0000cd"><path d="M110.71 183.79L117.19 192.24"/><path d="M115.97 189.29L117.19 192.24L114.66 190.29Z"/></g><g stroke="#0000b6" fill="#0000b6"><path d="M128.00 183.79L134.48 189.00"/><path d="M132.89 186.82L134.48 189.00L132.01 187.91Z"/></g><g stroke="#0000a5" fill="#0000a5"><path d="M145.29 183.79L151.77 186.20"/><path d="M149.57 184.64L151.77 186.20L149.08 185.95Z"/></g><g stroke="#00009d" fill="#00009d"><path d="M162.58 183.79L169.06 183.82"/><path d="M166.45 183.11L169.06 183.82L166.45 184.51Z"/></g><g stroke="#0000a2" fill="#0000a2"><path d="M179.86 183.79L186.35 181.88"/><path d="M183.65 181.95L186.35 181.88L184.04 183.29Z"/></g><g stroke="#0000ab" fill="#0000ab"><path d="M197.15 183.79L203.64 180.37"/><path d="M201.00 180.97L203.64 180.37L201.66 182.21Z"/></g><g stroke="#0000b1" fill="#0000b1"><path d="M214.44 183.79L220.92 179.30"/><path d="M218.38 180.21L220.92 179.30L219.18 181.36Z"/></g><g stroke="#0000b6" fill="#0000b6"><path d="M231.73 183.79L238.21 178.65"/><path d="M235.73 179.72L238.21 178.65L236.60 180.82Z"/></g><g stroke="#0000b7" fill="#0000b7"><path d="M249.02 183.79L255.50 178.44"/><path d="M253.05 179.56L255.50 178.44L253.94 180.64Z"/></g><g stroke="#0000b6" fill="#0000b6"><path d="M266.31 183.79L272.79 178.65"/><path d="M270.31 179.73L272.79 178.65L271.18 180.82Z"/></g><g stroke="#0000b1" fill="#0000b1"><path d="M283.59 183.79L290.08 179.30"/><path d="M287.54 180.21L290.08 179.30L288.33 181.36Z"/></g><g stroke="#0000ab" fill="#0000ab"><path d="M300.88 183.79L307.37 180.38"/><path d="M304.73 180.98L307.37 180.38L305.38 182.22Z"/></g><g stroke="#0000a2" fill="#0000a2"><path d="M318.17 183.79L324.65 181.90"/><path d="M321.95 181.96L324.65 181.90L322.35 183.30Z"/></g><g stroke="#00009d" fill="#00009d"><path d="M335.46 183.79L341.94 183.84"/><path d="M339.34 183.12L341.94 183.84L339.33 184.52Z"/></g><g stroke="#0000a5" fill="#0000a5"><path d="M352.75 183.79L359.23 186.22"/><path d="M357.03 184.65L359.23 186.22L356.54 185.96Z"/></g><g stroke="#0000b6" fill="#0000b6"><path d="M370.04 183.79L376.52 189.03"/><path d="M374.93 186.84L376.52 189.03L374.05 187.93Z"/></g><g stroke="#0000cd" fill="#0000cd"><path d="M387.32 183.79L393.81 192.27"/><path d="M392.59 189.31L393.81 192.27L391.27 190.32Z"/></g><g stroke="#0000e8" fill="#0000e8"><path d="M404.61 183.79L411.10 195.94"/><path d="M410.16 191.92L411.10 195.94L408.27 192.92Z"/></g><g stroke="#0011ff" fill="#0011ff"><path d="M421.90 183.79L428.38 200.04"/><path d="M427.77 194.83L428.38 200.04L425.24 195.84Z"/></g><g stroke="#005bff" fill="#005bff"><path d="M439.19 183.79L445.67 204.58"/><path d="M445.41 198.05L445.67 204.58L442.18 199.06Z"/></g><g stroke="#0035ff" fill="#0035ff"><path d="M110.71 167.56L121.52 185.74"/><path d="M119.80 179.63L121.52 185.74L116.97 181.31Z"/></g><g stroke="#0000ed" fill="#0000ed"><path d="M128.00 167.56L138.80 179.92"/><path d="M136.63 175.50L138.80 179.92L134.71 177.17Z"/></g><g stroke="#0000c9" fill="#0000c9"><path d="M145.29 167.56L156.09 174.81"/><path d="M153.52 171.87L156.09 174.81L152.40 173.55Z"/></g><g stroke="#0000b0" fill="#0000b0"><path d="M162.58 167.56L173.38 170.42"/><path d="M170.47 168.75L173.38 170.42L170.03 170.43Z"/></g><g stroke="#0000aa" fill="#0000aa"><path d="M179.86 167.56L190.67 166.75"/><path d="M187.48 166.15L190.67 166.75L187.60 167.82Z"/></g><g stroke="#0000b5" fill="#0000b5"><path d="M197.15 167.56L207.96 163.80"/><path d="M204.53 164.05L207.96 163.80L205.12 165.73Z"/></g><g stroke="#0000c1" fill="#0000c1"><path d="M214.44 167.56L225.25 161.57"/><path d="M221.65 162.47L225.25 161.57L222.58 164.15Z"/></g><g stroke="#0000cb" fill="#0000cb"><path d="M231.73 167.56L242.53 160.06"/><path d="M238.82 161.40L242.53 160.06L239.98 163.08Z"/></g><g stroke="#0000d0" fill="#0000d0"><path d="M249.02 167.56L259.82 159.27"/><path d="M256.05 160.84L259.82 159.27L257.33 162.51Z"/></g><g stroke="#0000d1" fill="#0000d1"><path d="M266.31 167.56L277.11 159.20"/><path d="M273.33 160.79L277.11 159.20L274.63 162.46Z"/></g><g stroke="#0000cc" fill="#0000cc"><path d="M283.59 167.56L294.40 159.85"/><path d="M290.67 161.25L294.40 159.85L291.87 162.93Z"/></g><g stroke="#0000c4" fill="#0000c4"><path d="M300.88 167.56L311.69 161.22"/><path d="M308.06 162.22L311.69 161.22L309.05 163.90Z"/></g><g stroke="#0000b7" fill="#0000b7"><path d="M318.17 167.56L328.98 163.31"/><path d="M325.52 163.70L328.98 163.31L326.17 165.38Z"/></g><g stroke="#0000ab" fill="#0000ab"><path d="M335.46 167.56L346.26 166.12"/><path d="M343.02 165.70L346.26 166.12L343.25 167.38Z"/></g><g stroke="#0000ad" fill="#0000ad"><path d="M352.75 167.56L363.55 169.65"/><path d="M360.58 168.20L363.55 169.65L360.26 169.88Z"/></g><g stroke="#0000c4" fill="#0000c4"><path d="M370.04 167.56L380.84 173.90"/><path d="M378.20 171.22L380.84 173.90L377.22 172.90Z"/></g><g stroke="#0000e5" fill="#0000e5"><path d="M387.32 167.56L398.13 178.86"/><path d="M395.88 174.75L398.13 178.86L394.12 176.43Z"/></g><g stroke="#0022ff" fill="#0022ff"><path d="M404.61 167.56L415.42 184.55"/><path d="M413.61 178.79L415.42 184.55L410.97 180.47Z"/></g><g stroke="#008aff" fill="#008aff"><path d="M421.90 167.56L432.71 190.96"/><path d="M431.39 183.34L432.71 190.96L427.76 185.02Z"/></g><g stroke="#00feff" fill="#00feff"><path d="M439.19 167.56L450.00 198.08"/><path d="M449.23 188.40L450.00 198.08L444.49 190.08Z"/></g><g stroke="#00d8ff" fill="#00d8ff"><path d="M110.71 151.32L125.84 179.25"/><path d="M123.62 169.98L125.84 179.25L119.29 172.33Z"/></g><g stroke="#0051ff" fill="#0051ff"><path d="M128.00 151.32L143.13 170.83"/><path d="M140.26 164.00L143.13 170.83L137.23 166.35Z"/></g><g stroke="#0000f0" fill="#0000f0"><path d="M145.29 151.32L160.41 163.42"/><path d="M156.97 158.74L160.41 163.42L155.09 161.09Z"/></g><g stroke="#0000c8" fill="#0000c8"><path d="M162.58 151.32L177.70 157.02"/><path d="M173.76 154.19L177.70 157.02L172.88 156.54Z"/></g><g stroke="#0000b6" fill="#0000b6"><path d="M179.86 151.32L194.99 151.62"/><path d="M190.63 150.36L194.99 151.62L190.58 152.71Z"/></g><g stroke="#0000c0" fill="#0000c0"><path d="M197.15 151.32L212.28 147.23"/><path d="M207.58 147.24L212.28 147.23L208.21 149.59Z"/></g><g stroke="#0000d2" fill="#0000d2"><path d="M214.44 151.32L229.57 143.85"/><path d="M224.60 144.84L229.57 143.85L225.76 147.19Z"/></g><g stroke="#0000e0" fill="#0000e0"><path d="M231.73 151.32L246.86 141.48"/><path d="M241.71 143.16L246.86 141.48L243.24 145.51Z"/></g><g stroke="#0000e9" fill="#0000e9"><path d="M249.02 151.32L264.14 140.11"/><path d="M258.89 142.19L264.14 140.11L260.63 144.54Z"/></g><g stroke="#0000ec" fill="#0000ec"><path d="M266.31 151.32L281.43 139.76"/><path d="M276.15 141.93L281.43 139.76L277.95 144.28Z"/></g><g stroke="#0000e8" fill="#0000e8"><path d="M283.59 151.32L298.72 140.41"/><path d="M293.49 142.39L298.72 140.41L295.19 144.74Z"/></g><g stroke="#0000dd" fill="#0000dd"><path d="M300.88 151.32L316.01 142.06"/><path d="M310.91 143.57L316.01 142.06L312.35 145.92Z"/></g><g stroke="#0000cc" fill="#0000cc"><path d="M318.17 151.32L333.30 144.73"/><path d="M328.40 145.46L333.30 144.73L329.43 147.81Z"/></g><g stroke="#0000bb" fill="#0000bb"><path d="M335.46 151.32L350.59 148.40"/><path d="M345.98 148.07L350.59 148.40L346.43 150.42Z"/></g><g stroke="#0000b8" fill="#0000b8"><path d="M352.75 151.32L367.88 153.08"/><path d="M363.63 151.39L367.88 153.08L363.36 153.74Z"/></g><g stroke="#0000d1" fill="#0000d1"><path d="M370.04 151.32L385.16 158.77"/><path d="M381.36 155.43L385.16 158.77L380.20 157.78Z"/></g><g stroke="#0000fe" fill="#0000fe"><path d="M387.32 151.32L402.45 165.46"/><path d="M399.17 160.19L402.45 165.46L396.97 162.54Z"/></g><g stroke="#0076ff" fill="#0076ff"><path d="M404.61 151.32L419.74 173.16"/><path d="M417.05 165.66L419.74 173.16L413.66 168.01Z"/></g><g stroke="#00fffb" fill="#00fffb"><path d="M421.90 151.32L437.03 181.87"/><path d="M435.02 171.84L437.03 181.87L430.27 174.19Z"/></g><g stroke="#00ff5d" fill="#00ff5d"><path d="M439.19 151.32L454.32 191.59"/><path d="M453.06 178.75L454.32 191.59L446.81 181.09Z"/></g><g stroke="#00ff83" fill="#00ff83"><path d="M110.71 135.08L130.16 172.75"/><path d="M127.45 160.33L130.16 172.75L121.60 163.35Z"/></g><g stroke="#00caff" fill="#00caff"><path d="M128.00 135.08L147.45 161.75"/><path d="M143.88 152.51L147.45 161.75L139.74 155.53Z"/></g><g stroke="#0032ff" fill="#0032ff"><path d="M145.29 135.08L164.74 152.03"/><path d="M160.42 145.61L164.74 152.03L157.78 148.63Z"/></g><g stroke="#0000df" fill="#0000df"><path d="M162.58 135.08L182.02 143.61"/><path d="M177.05 139.63L182.02 143.61L175.73 142.65Z"/></g><g stroke="#0000c3" fill="#0000c3"><path d="M179.86 135.08L199.31 136.49"/><path d="M193.79 134.57L199.31 136.49L193.57 137.59Z"/></g><g stroke="#0000cb" fill="#0000cb"><path d="M197.15 135.08L216.60 130.66"/><path d="M210.62 130.43L216.60 130.66L211.31 133.45Z"/></g><g stroke="#0000e2" fill="#0000e2"><path d="M214.44 135.08L233.89 126.13"/><path d="M227.56 127.22L233.89 126.13L228.95 130.24Z"/></g><g stroke="#0000f6" fill="#0000f6"><path d="M231.73 135.08L251.18 122.90"/><path d="M244.60 124.92L251.18 122.90L246.49 127.94Z"/></g><g stroke="#0008ff" fill="#0008ff"><path d="M249.02 135.08L268.47 120.95"/><path d="M261.73 123.54L268.47 120.95L263.93 126.56Z"/></g><g stroke="#0012ff" fill="#0012ff"><path d="M266.31 135.08L285.76 120.31"/><path d="M278.97 123.08L285.76 120.31L281.27 126.10Z"/></g><g stroke="#0008ff" fill="#0008ff"><path d="M283.59 135.08L303.04 120.96"/><path d="M296.31 123.54L303.04 120.96L298.50 126.56Z"/></g><g stroke="#0000f6" fill="#0000f6"><path d="M300.88 135.08L320.33 122.90"/><path d="M313.75 124.92L320.33 122.90L315.64 127.94Z"/></g><g stroke="#0000e2" fill="#0000e2"><path d="M318.17 135.08L337.62 126.14"/><path d="M331.29 127.22L337.62 126.14L332.68 130.24Z"/></g><g stroke="#0000cb" fill="#0000cb"><path d="M335.46 135.08L354.91 130.68"/><path d="M348.93 130.44L354.91 130.68L349.62 133.47Z"/></g><g stroke="#0000c3" fill="#0000c3"><path d="M352.75 135.08L372.20 136.51"/><path d="M366.67 134.59L372.20 136.51L366.45 137.61Z"/></g><g stroke="#0000e0" fill="#0000e0"><path d="M370.04 135.08L389.49 143.64"/><path d="M384.51 139.65L389.49 143.64L383.19 142.67Z"/></g><g stroke="#0032ff" fill="#0032ff"><path d="M387.32 135.08L406.77 152.06"/><path d="M402.46 145.63L406.77 152.06L399.82 148.65Z"/></g><g stroke="#00caff" fill="#00caff"><path d="M404.61 135.08L424.06 161.77"/><path d="M420.50 152.53L424.06 161.77L416.35 155.55Z"/></g><g stroke="#00ff82" fill="#00ff82"><path d="M421.90 135.08L441.35 172.79"/><path d="M438.64 160.35L441.35 172.79L432.79 163.37Z"/></g><g stroke="#47ff00" fill="#47ff00"><path d="M439.19 135.08L458.64 185.09"/><path d="M456.89 169.09L458.64 185.09L449.12 172.11Z"/></g><g stroke="#21ff00" fill="#21ff00"><path d="M110.71 118.85L134.48 166.26"/><path d="M131.27 150.67L134.48 166.26L123.91 154.37Z"/></g><g stroke="#00ffbb" fill="#00ffbb"><path d="M128.00 118.85L151.77 152.66"/><path d="M147.51 141.02L151.77 152.66L142.26 144.71Z"/></g><g stroke="#0086ff" fill="#0086ff"><path d="M145.29 118.85L169.06 140.64"/><path d="M163.86 132.48L169.06 140.64L160.48 136.17Z"/></g><g stroke="#0000f8" fill="#0000f8"><path d="M162.58 118.85L186.35 130.21"/><path d="M180.34 125.07L186.35 130.21L178.58 128.76Z"/></g><g stroke="#0000d1" fill="#0000d1"><path d="M179.86 118.85L203.64 121.36"/><path d="M196.94 118.79L203.64 121.36L196.55 122.48Z"/></g><g stroke="#0000d7" fill="#0000d7"><path d="M197.15 118.85L220.92 114.09"/><path d="M213.67 113.63L220.92 114.09L214.40 117.32Z"/></g><g stroke="#0000f2" fill="#0000f2"><path d="M214.44 118.85L238.21 108.41"/><path d="M230.51 109.59L238.21 108.41L232.13 113.28Z"/></g><g stroke="#001bff" fill="#001bff"><path d="M231.73 118.85L255.50 104.31"/><path d="M247.48 106.68L255.50 104.31L249.74 110.37Z"/></g><g stroke="#003fff" fill="#003fff"><path d="M249.02 118.85L272.79 101.79"/><path d="M264.58 104.89L272.79 101.79L267.22 108.58Z"/></g><g stroke="#004dff" fill="#004dff"><path d="M266.31 118.85L290.08 100.86"/><path d="M281.79 104.23L290.08 100.86L284.59 107.92Z"/></g><g stroke="#0043ff" fill="#0043ff"><path d="M283.59 118.85L307.37 101.51"/><path d="M299.13 104.69L307.37 101.51L301.82 108.38Z"/></g><g stroke="#0023ff" fill="#0023ff"><path d="M300.88 118.85L324.65 103.74"/><path d="M316.59 106.27L324.65 103.74L318.94 109.97Z"/></g><g stroke="#0000f7" fill="#0000f7"><path d="M318.17 118.85L341.94 107.56"/><path d="M334.18 108.98L341.94 107.56L335.93 112.68Z"/></g><g stroke="#0000db" fill="#0000db"><path d="M335.46 118.85L359.23 112.96"/><path d="M351.89 112.82L359.23 112.96L352.80 116.51Z"/></g><g stroke="#0000cf" fill="#0000cf"><path d="M352.75 118.85L376.52 119.94"/><path d="M369.72 117.78L376.52 119.94L369.55 121.47Z"/></g><g stroke="#0000ee" fill="#0000ee"><path d="M370.04 118.85L393.81 128.50"/><path d="M387.67 123.86L393.81 128.50L386.17 127.55Z"/></g><g stroke="#0068ff" fill="#0068ff"><path d="M387.32 118.85L411.10 138.65"/><path d="M405.75 131.07L411.10 138.65L402.67 134.76Z"/></g><g stroke="#00ffdf" fill="#00ffdf"><path d="M404.61 118.85L428.38 150.39"/><path d="M423.95 139.40L428.38 150.39L419.05 143.09Z"/></g><g stroke="#00ff09" fill="#00ff09"><path d="M421.90 118.85L445.67 163.70"/><path d="M442.27 148.86L445.67 163.70L435.30 152.55Z"/></g><g stroke="#eaff00" fill="#eaff00"><path d="M439.19 118.85L462.96 178.60"/><path d="M460.86 160.72L462.96 178.60L452.21 164.17Z"/></g><g stroke="#c4ff00" fill="#c4ff00"><path d="M110.71 102.61L138.80 159.76"/><path d="M135.31 142.11L138.80 159.76L126.95 146.22Z"/></g><g stroke="#00ff42" fill="#00ff42"><path d="M128.00 102.61L156.09 143.57"/><path d="M151.13 129.52L156.09 143.57L144.77 133.89Z"/></g><g stroke="#00dbff" fill="#00dbff"><path d="M145.29 102.61L173.38 129.26"/><path d="M167.31 119.35L173.38 129.26L163.17 123.72Z"/></g><g stroke="#0025ff" fill="#0025ff"><path d="M162.58 102.61L190.67 116.81"/><path d="M183.63 110.51L190.67 116.81L181.43 114.87Z"/></g><g stroke="#0000df" fill="#0000df"><path d="M179.86 102.61L207.96 106.23"/><path d="M200.10 103.00L207.96 106.23L199.54 107.36Z"/></g><g stroke="#0000e3" fill="#0000e3"><path d="M197.15 102.61L225.25 97.52"/><path d="M216.71 96.82L225.25 97.52L217.50 101.18Z"/></g><g stroke="#0008ff" fill="#0008ff"><path d="M214.44 102.61L242.53 90.69"/><path d="M233.47 91.96L242.53 90.69L235.32 96.33Z"/></g><g stroke="#004aff" fill="#004aff"><path d="M231.73 102.61L259.82 85.73"/><path d="M250.37 88.44L259.82 85.73L252.99 92.80Z"/></g><g stroke="#0077ff" fill="#0077ff"><path d="M249.02 102.61L277.11 82.63"/><path d="M267.42 86.24L277.11 82.63L270.52 90.60Z"/></g><g stroke="#0088ff" fill="#0088ff"><path d="M266.31 102.61L294.40 81.41"/><path d="M284.61 85.37L294.40 81.41L287.90 89.74Z"/></g><g stroke="#007fff" fill="#007fff"><path d="M283.59 102.61L311.69 82.06"/><path d="M301.95 85.83L311.69 82.06L305.14 90.20Z"/></g><g stroke="#005aff" fill="#005aff"><path d="M300.88 102.61L328.98 84.58"/><path d="M319.44 87.62L328.98 84.58L322.24 91.99Z"/></g><g stroke="#001eff" fill="#001eff"><path d="M318.17 102.61L346.26 88.97"/><path d="M337.06 90.74L346.26 88.97L339.18 95.11Z"/></g><g stroke="#0000ec" fill="#0000ec"><path d="M335.46 102.61L363.55 95.24"/><path d="M354.84 95.19L363.55 95.24L355.98 99.55Z"/></g><g stroke="#0000db" fill="#0000db"><path d="M352.75 102.61L380.84 103.37"/><path d="M372.76 100.97L380.84 103.37L372.64 105.33Z"/></g><g stroke="#0000fc" fill="#0000fc"><path d="M370.04 102.61L398.13 113.37"/><path d="M390.82 108.07L398.13 113.37L389.15 112.44Z"/></g><g stroke="#009eff" fill="#009eff"><path d="M387.32 102.61L415.42 125.25"/><path d="M409.04 116.51L415.42 125.25L405.52 120.87Z"/></g><g stroke="#00ff8b" fill="#00ff8b"><path d="M404.61 102.61L432.71 139.00"/><path d="M427.39 126.27L432.71 139.00L421.74 130.63Z"/></g><g stroke="#70ff00" fill="#70ff00"><path d="M421.90 102.61L450.00 154.62"/><path d="M445.89 137.36L450.00 154.62L437.82 141.73Z"/></g><g stroke="#ffcd00" fill="#ffcd00"><path d="M439.19 102.61L467.28 172.10"/><path d="M465.09 154.24L467.28 172.10L456.45 157.73Z"/></g><g stroke="#ffda00" fill="#ffda00"><path d="M110.71 86.37L143.13 153.27"/><path d="M139.74 135.59L143.13 153.27L131.35 139.65Z"/></g><g stroke="#37ff00" fill="#37ff00"><path d="M128.00 86.37L160.41 134.49"/><path d="M154.76 118.03L160.41 134.49L147.28 123.06Z"/></g><g stroke="#00ffcf" fill="#00ffcf"><path d="M145.29 86.37L177.70 117.87"/><path d="M170.75 106.22L177.70 117.87L165.86 111.26Z"/></g><g stroke="#005bff" fill="#005bff"><path d="M162.58 86.37L194.99 103.40"/><path d="M186.92 95.95L194.99 103.40L184.28 100.99Z"/></g><g stroke="#0000ed" fill="#0000ed"><path d="M179.86 86.37L212.28 91.10"/><path d="M203.25 87.21L212.28 91.10L202.52 92.25Z"/></g><g stroke="#0000ef" fill="#0000ef"><path d="M197.15 86.37L229.57 80.95"/><path d="M219.75 80.01L229.57 80.95L220.60 85.04Z"/></g><g stroke="#002cff" fill="#002cff"><path d="M214.44 86.37L246.86 72.97"/><path d="M236.42 74.34L246.86 72.97L238.50 79.37Z"/></g><g stroke="#0079ff" fill="#0079ff"><path d="M231.73 86.37L264.14 67.14"/><path d="M253.26 70.20L264.14 67.14L256.24 75.23Z"/></g><g stroke="#00aeff" fill="#00aeff"><path d="M249.02 86.37L281.43 63.47"/><path d="M270.26 67.59L281.43 63.47L273.82 72.63Z"/></g><g stroke="#00c4ff" fill="#00c4ff"><path d="M266.31 86.37L298.72 61.96"/><path d="M287.43 66.52L298.72 61.96L291.22 71.55Z"/></g><g stroke="#00baff" fill="#00baff"><path d="M283.59 86.37L316.01 62.61"/><path d="M304.77 66.98L316.01 62.61L308.46 72.02Z"/></g><g stroke="#0092ff" fill="#0092ff"><path d="M300.88 86.37L333.30 65.42"/><path d="M322.28 68.98L333.30 65.42L325.53 74.01Z"/></g><g stroke="#004dff" fill="#004dff"><path d="M318.17 86.37L350.59 70.39"/><path d="M339.95 72.50L350.59 70.39L342.43 77.54Z"/></g><g stroke="#0000fc" fill="#0000fc"><path d="M335.46 86.37L367.88 77.51"/><path d="M357.79 77.57L367.88 77.51L359.17 82.60Z"/></g><g stroke="#0000e7" fill="#0000e7"><path d="M352.75 86.37L385.16 86.80"/><path d="M375.80 84.16L385.16 86.80L375.74 89.19Z"/></g><g stroke="#001aff" fill="#001aff"><path d="M370.04 86.37L402.45 98.24"/><path d="M393.98 92.29L402.45 98.24L392.14 97.32Z"/></g><g stroke="#00d4ff" fill="#00d4ff"><path d="M387.32 86.37L419.74 111.85"/><path d="M412.33 101.95L419.74 111.85L408.37 106.98Z"/></g><g stroke="#00ff36" fill="#00ff36"><path d="M404.61 86.37L437.03 127.61"/><path d="M430.84 113.14L437.03 127.61L424.43 118.18Z"/></g><g stroke="#e9ff00" fill="#e9ff00"><path d="M421.90 86.37L454.32 145.53"/><path d="M450.05 128.04L454.32 145.53L441.88 132.52Z"/></g><g stroke="#ff8400" fill="#ff8400"><path d="M439.19 86.37L471.61 165.61"/><path d="M469.33 147.75L471.61 165.61L460.71 151.28Z"/></g><g stroke="#ff9d00" fill="#ff9d00"><path d="M110.71 70.14L147.45 146.77"/><path d="M144.13 129.08L147.45 146.77L135.73 133.11Z"/></g><g stroke="#b1ff00" fill="#b1ff00"><path d="M128.00 70.14L164.74 125.40"/><path d="M158.99 108.34L164.74 125.40L151.23 113.50Z"/></g><g stroke="#00ff7a" fill="#00ff7a"><path d="M145.29 70.14L182.02 106.48"/><path d="M174.20 93.09L182.02 106.48L168.56 98.80Z"/></g><g stroke="#0091ff" fill="#0091ff"><path d="M162.58 70.14L199.31 90.00"/><path d="M190.21 81.39L199.31 90.00L187.12 87.10Z"/></g><g stroke="#0000fc" fill="#0000fc"><path d="M179.86 70.14L216.60 75.97"/><path d="M206.41 71.43L216.60 75.97L205.50 77.13Z"/></g><g stroke="#0000fb" fill="#0000fb"><path d="M197.15 70.14L233.89 64.39"/><path d="M222.80 63.20L233.89 64.39L223.69 68.90Z"/></g><g stroke="#0051ff" fill="#0051ff"><path d="M214.44 70.14L251.18 55.25"/><path d="M239.38 56.71L251.18 55.25L241.69 62.41Z"/></g><g stroke="#00a8ff" fill="#00a8ff"><path d="M231.73 70.14L268.47 48.56"/><path d="M256.15 51.96L268.47 48.56L259.50 57.66Z"/></g><g stroke="#00e5ff" fill="#00e5ff"><path d="M249.02 70.14L285.76 44.31"/><path d="M273.10 48.94L285.76 44.31L277.11 54.65Z"/></g><g stroke="#00ffff" fill="#00ffff"><path d="M266.31 70.14L303.04 42.52"/><path d="M290.25 47.67L303.04 42.52L294.54 53.37Z"/></g><g stroke="#00f6ff" fill="#00f6ff"><path d="M283.59 70.14L320.33 43.16"/><path d="M307.59 48.13L320.33 43.16L311.78 53.83Z"/></g><g stroke="#00c9ff" fill="#00c9ff"><path d="M300.88 70.14L337.62 46.26"/><path d="M325.12 50.33L337.62 46.26L328.83 56.03Z"/></g><g stroke="#007cff" fill="#007cff"><path d="M318.17 70.14L354.91 51.80"/><path d="M342.84 54.26L354.91 51.80L345.69 59.97Z"/></g><g stroke="#001eff" fill="#001eff"><path d="M335.46 70.14L372.20 59.79"/><path d="M360.75 59.94L372.20 59.79L362.35 65.64Z"/></g><g stroke="#0000f3" fill="#0000f3"><path d="M352.75 70.14L389.49 70.23"/><path d="M378.85 67.35L389.49 70.23L378.83 73.06Z"/></g><g stroke="#003aff" fill="#003aff"><path d="M370.04 70.14L406.77 83.11"/><path d="M397.14 76.50L406.77 83.11L395.12 82.21Z"/></g><g stroke="#00fff4" fill="#00fff4"><path d="M387.32 70.14L424.06 98.44"/><path d="M415.61 87.39L424.06 98.44L411.22 93.09Z"/></g><g stroke="#1eff00" fill="#1eff00"><path d="M404.61 70.14L441.35 116.22"/><path d="M434.28 100.01L441.35 116.22L427.13 105.72Z"/></g><g stroke="#ffdc00" fill="#ffdc00"><path d="M421.90 70.14L458.64 136.44"/><path d="M454.29 118.98L458.64 136.44L446.14 123.49Z"/></g><g stroke="#ff1b00" fill="#ff1b00"><path d="M439.19 70.14L475.93 159.11"/><path d="M473.60 141.27L475.93 159.11L464.99 144.82Z"/></g><g stroke="#ff3300" fill="#ff3300"><path d="M110.71 53.90L151.77 140.28"/><path d="M148.51 122.58L151.77 140.28L140.10 126.58Z"/></g><g stroke="#fff000" fill="#fff000"><path d="M128.00 53.90L169.06 116.32"/><path d="M163.40 99.23L169.06 116.32L155.61 104.35Z"/></g><g stroke="#00ff26" fill="#00ff26"><path d="M145.29 53.90L186.35 95.09"/><path d="M177.65 79.97L186.35 95.09L171.25 86.34Z"/></g><g stroke="#00c7ff" fill="#00c7ff"><path d="M162.58 53.90L203.64 76.60"/><path d="M193.50 66.83L203.64 76.60L189.97 73.21Z"/></g><g stroke="#0019ff" fill="#0019ff"><path d="M179.86 53.90L220.92 60.84"/><path d="M209.56 55.64L220.92 60.84L208.49 62.02Z"/></g><g stroke="#0013ff" fill="#0013ff"><path d="M197.15 53.90L238.21 47.82"/><path d="M225.84 46.39L238.21 47.82L226.79 52.77Z"/></g><g stroke="#0075ff" fill="#0075ff"><path d="M214.44 53.90L255.50 37.53"/><path d="M242.33 39.08L255.50 37.53L244.87 45.46Z"/></g><g stroke="#00d8ff" fill="#00d8ff"><path d="M231.73 53.90L272.79 29.97"/><path d="M259.03 33.72L272.79 29.97L262.75 40.09Z"/></g><g stroke="#00ffe2" fill="#00ffe2"><path d="M249.02 53.90L290.08 25.15"/><path d="M275.95 30.29L290.08 25.15L280.41 36.67Z"/></g><g stroke="#00ffc3" fill="#00ffc3"><path d="M266.31 53.90L307.37 23.07"/><path d="M293.07 28.81L307.37 23.07L297.86 35.19Z"/></g><g stroke="#00ffcd" fill="#00ffcd"><path d="M283.59 53.90L324.65 23.72"/><path d="M310.41 29.27L324.65 23.72L315.10 35.65Z"/></g><g stroke="#00fffe" fill="#00fffe"><path d="M300.88 53.90L341.94 27.10"/><path d="M327.96 31.68L341.94 27.10L332.13 38.05Z"/></g><g stroke="#00acff" fill="#00acff"><path d="M318.17 53.90L359.23 33.22"/><path d="M345.73 36.02L359.23 33.22L348.94 42.40Z"/></g><g stroke="#0042ff" fill="#0042ff"><path d="M335.46 53.90L376.52 42.07"/><path d="M363.70 42.31L376.52 42.07L365.54 48.69Z"/></g><g stroke="#0000ff" fill="#0000ff"><path d="M352.75 53.90L393.81 53.66"/><path d="M381.89 50.54L393.81 53.66L381.93 56.92Z"/></g><g stroke="#005aff" fill="#005aff"><path d="M370.04 53.90L411.10 67.98"/><path d="M400.29 60.71L411.10 67.98L398.10 67.09Z"/></g><g stroke="#00ffbf" fill="#00ffbf"><path d="M387.32 53.90L428.38 85.04"/><path d="M418.90 72.83L428.38 85.04L414.07 79.20Z"/></g><g stroke="#73ff00" fill="#73ff00"><path d="M404.61 53.90L445.67 104.83"/><path d="M438.39 88.37L445.67 104.83L431.13 94.22Z"/></g><g stroke="#ffb100" fill="#ffb100"><path d="M421.90 53.90L462.96 127.36"/><path d="M458.55 109.91L462.96 127.36L450.41 114.46Z"/></g><g stroke="#c80000" fill="#c80000"><path d="M439.19 53.90L480.25 152.62"/><path d="M477.87 134.78L480.25 152.62L469.27 138.36Z"/></g></g>
<path d="M28 208.5H522M274.5 23V393" stroke="#000" stroke-width="1" fill="none" shape-rendering="crispEdges"/>
<defs><linearGradient id="pg" x1="0" y1="1" x2="0" y2="0">
<stop offset="0.00000" stop-color="#00008b"/>
<stop offset="0.14286" stop-color="#0000ff"/>
<stop offset="0.28571" stop-color="#00ffff"/>
<stop offset="0.42857" stop-color="#00ff00"/>
<stop offset="0.57143" stop-color="#ffff00"/>
<stop offset="0.71429" stop-color="#ffa500"/>
<stop offset="0.85714" stop-color="#ff0000"/>
<stop offset="1.00000" stop-color="#8b0000"/>
</linearGradient></defs>
<rect x="534.0" y="23.5" width="24.0" height="369.0" fill="url(#pg)"/>
<path d="M534.0 340.5h9M558.0 340.5h-10M534.0 287.5h9M558.0 287.5h-10M534.0 234.5h9M558.0 234.5h-10M534.0 182.5h9M558.0 182.5h-10M534.0 129.5h9M558.0 129.5h-10M534.0 76.5h9M558.0 76.5h-10" stroke="#000" stroke-width="1" fill="none" shape-rendering="crispEdges"/>
<rect x="533.5" y="23.5" width="25.0" height="369.0" fill="none" stroke="#000" stroke-width="1" shape-rendering="crispEdges"/>
</svg>
</body></html>
